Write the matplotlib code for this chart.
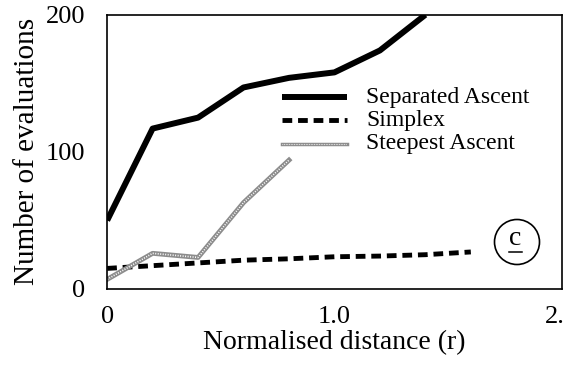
import numpy as np
import matplotlib.pyplot as plt
from matplotlib.patches import Circle

plt.rcParams['font.family'] = ['Liberation Serif', 'DejaVu Serif']

# data
r = [0, 0.2, 0.4, 0.6, 0.8, 1.0, 1.2, 1.4]
separated = [50, 117, 125, 147, 154, 158, 174, 200]

r_simplex = [0, 0.2, 0.4, 0.6, 0.8, 1.0, 1.2, 1.4, 1.6]
simplex = [15, 17, 19, 21, 22, 23.5, 24, 25, 27]

r_steep = [0, 0.2, 0.4, 0.6, 0.8]
steepest = [7, 26, 23, 63, 94]

labels = ['Separated Ascent', 'Simplex', 'Steepest Ascent']

fig = plt.figure(figsize=(5.64, 3.70), dpi=100)
ax = fig.add_axes([0.19, 0.219, 0.806, 0.741])

ax.plot(r, separated, color='black', lw=4.3, solid_capstyle='butt')
ax.plot(r_simplex, simplex, color='black', lw=3.5, linestyle=(0, (2, 1.2)),
        dash_capstyle='butt')
# gray hatched look for steepest ascent
ax.plot(r_steep, steepest, color='#8c8c8c', lw=3.5)
ax.plot(r_steep, steepest, color='white', lw=1.2, linestyle=(0, (0.6, 0.9)))

# legend drawn by hand
leg_y = [140, 123, 106]
for i, lab in enumerate(labels):
    xs = np.array([0.77, 1.055])
    ys = np.array([leg_y[i], leg_y[i]])
    if i == 0:
        ax.plot(xs, ys, color='black', lw=4.3, solid_capstyle='butt')
    elif i == 1:
        ax.plot(xs, ys, color='black', lw=3.5, linestyle=(0, (2, 1.2)))
    else:
        ax.plot(xs, ys, color='#8c8c8c', lw=2.5)
        ax.plot(xs, ys, color='white', lw=0.8, linestyle=(0, (0.6, 0.9)))
    ax.text(1.14, leg_y[i], lab, fontsize=17, va='center', ha='left')

# circled c
ax.add_patch(Circle((517, 128), 22.5, transform=None, fill=False, lw=1.2,
                    color='black'))
ax.text(0.898, 0.185, 'c', transform=ax.transAxes, fontsize=20,
        ha='center', va='center')
ax.plot([0.884, 0.912], [0.135, 0.135], transform=ax.transAxes,
        color='black', lw=1.1)

ax.set_xlim(0, 2.0)
ax.set_ylim(0, 200)
ax.set_xticks([0, 1.0, 2.0])
ax.set_xticklabels(['0', '1.0', '2.0'])
ax.set_yticks([0, 100, 200])
ax.tick_params(length=0, labelsize=19)
ax.tick_params(axis='x', pad=12)
ax.tick_params(axis='y', pad=16)
for s in ax.spines.values():
    s.set_linewidth(1.2)

ax.set_xlabel('Normalised distance (r)', fontsize=20, labelpad=2)
ax.set_ylabel('Number of evaluations', fontsize=21, labelpad=4)

fig.savefig('out.png', dpi=100)
